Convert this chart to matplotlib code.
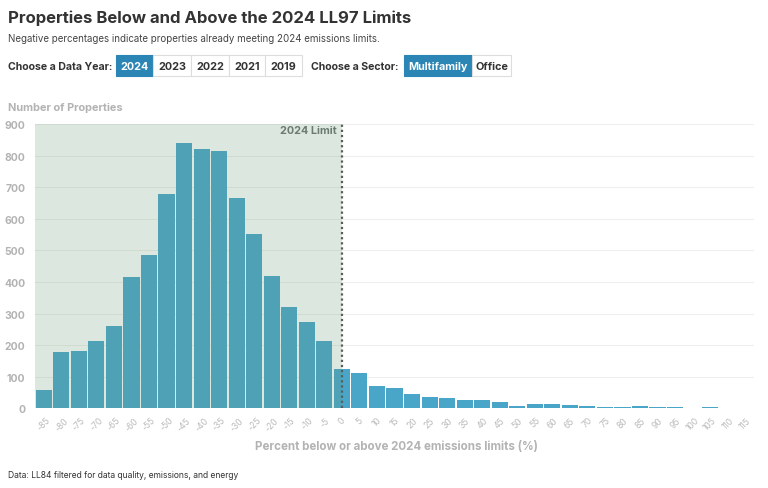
import matplotlib
matplotlib.use("Agg")
import matplotlib.pyplot as plt
from matplotlib.patches import FancyBboxPatch

plt.rcParams['font.family'] = ['Inter', 'DejaVu Sans']

# bin centers (% below / above the 2024 limit) and counts
bins = [-85, -80, -75, -70, -65, -60, -55, -50, -45, -40, -35, -30, -25, -20,
        -15, -10, -5, 0, 5, 10, 15, 20, 25, 30, 35, 40, 45, 50, 55, 60, 65,
        70, 75, 80, 85, 90, 95, 100, 105, 110]
counts = [59, 177, 181, 212, 261, 415, 484, 677, 840, 820, 816, 667, 553, 419,
          321, 272, 212, 124, 112, 70, 63, 44, 36, 32, 26, 25, 20, 7, 14, 13, 11,
          7, 3, 3, 6, 5, 3, 1, 3, 2]
xticks = list(range(-85, 120, 5))
yticks = list(range(0, 1000, 100))
years = ["2024", "2023", "2022", "2021", "2019"]
sectors = ["Multifamily", "Office"]
limit = 0

GRAY = "#b3b3b3"
SEL = "#2b86b5"

fig = plt.figure(figsize=(7.68, 4.89), dpi=100)
W, H = 768, 489


def fx(px):
    return px / W


def fy(py):
    return 1 - py / H


fig.text(fx(8), fy(18), "Properties Below and Above the 2024 LL97 Limits",
         fontsize=12, fontweight="bold", color="#333333", va="center")
fig.text(fx(8), fy(39), "Negative percentages indicate properties already meeting 2024 emissions limits.",
         fontsize=7.0, color="#444444", va="center")


def button_row(labels, edges):
    for i, lab in enumerate(labels):
        x0, x1 = edges[i], edges[i + 1]
        sel = i == 0
        fig.patches.append(FancyBboxPatch((fx(x0), fy(77)), fx(x1 - x0), 21 / H,
                                          boxstyle="square,pad=0", transform=fig.transFigure,
                                          facecolor=SEL if sel else "white",
                                          edgecolor=SEL if sel else "#dddddd", lw=0.8))
        fig.text(fx((x0 + x1) / 2), fy(67), lab, fontsize=7.8, fontweight="bold",
                 color="white" if sel else "#333333", ha="center", va="center")


fig.text(fx(8), fy(67), "Choose a Data Year:", fontsize=7.6, fontweight="bold",
         color="#333333", va="center")
button_row(years, [116, 153, 191, 229, 265, 302])
fig.text(fx(311), fy(67), "Choose a Sector:", fontsize=7.6, fontweight="bold",
         color="#333333", va="center")
button_row(sectors, [404, 472, 511])

ax = fig.add_axes([fx(35), fy(409.3), fx(754 - 35), (409.3 - 125) / H])
ax.set_xlim(-87.5, 117.5)
ax.set_ylim(0, 900)

ax.bar(bins, counts, width=4.6, color="#4aa6c9", linewidth=0, zorder=2)
# translucent "already meeting" region laid over the bars
ax.axvspan(-87.5, limit, color="#64966f", alpha=0.22, zorder=3, lw=0)
ax.axvline(limit, color="#555e5a", lw=1.6, ls=(0, (1, 1.3)), zorder=4)
ax.text(limit - 1.5, 880, "2024 Limit", fontsize=7.8, fontweight="bold",
        color="#6b7b70", ha="right", va="center", zorder=5)

ax.set_yticks(yticks)
ax.yaxis.grid(True, color="#eeeeee", lw=0.8)
ax.set_axisbelow(True)
for sp in ax.spines.values():
    sp.set_visible(False)
ax.tick_params(axis="y", length=0, labelsize=7.5, labelcolor=GRAY, pad=7)
for lb in ax.get_yticklabels():
    lb.set_fontweight("bold")
ax.set_xticks(xticks)
ax.set_xticklabels([str(t) for t in xticks], rotation=45, ha="center", va="top",
                   fontsize=6.2, color="#bababa")
ax.tick_params(axis="x", length=0, pad=5)

fig.text(fx(8), fy(108), "Number of Properties", fontsize=7.9, fontweight="bold",
         color=GRAY, va="center")
fig.text(fx(396), fy(447), "Percent below or above 2024 emissions limits (%)",
         fontsize=8.3, fontweight="bold", color=GRAY, ha="center", va="center")
fig.text(fx(8), fy(476), "Data: LL84 filtered for data quality, emissions, and energy",
         fontsize=6.1, color="#333333", va="center")

fig.savefig("out.png", dpi=100)
